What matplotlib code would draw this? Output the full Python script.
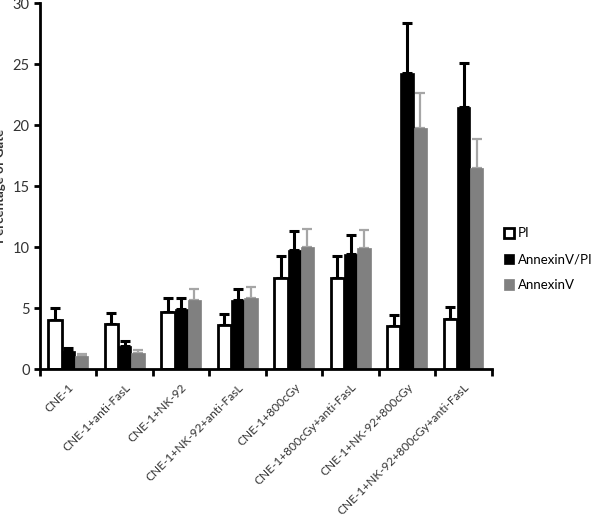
import numpy as np
import matplotlib
matplotlib.use("Agg")
import matplotlib.pyplot as plt

plt.rcParams['font.family'] = ['Lato', 'DejaVu Sans']

groups = ["CNE-1", "CNE-1+anti-FasL", "CNE-1+NK-92", "CNE-1+NK-92+anti-FasL",
          "CNE-1+800cGy", "CNE-1+800cGy+anti-FasL", "CNE-1+NK-92+800cGy",
          "CNE-1+NK-92+800cGy+anti-FasL"]

pi_mean = [4.0, 3.7, 4.7, 3.65, 7.45, 7.45, 3.5, 4.1]
pi_err = [1.0, 0.9, 1.15, 0.9, 1.85, 1.85, 0.9, 1.0]
avpi_mean = [1.5, 1.9, 4.95, 5.7, 9.75, 9.4, 24.3, 21.5]
avpi_err = [0.2, 0.4, 0.85, 0.9, 1.6, 1.6, 4.1, 3.6]
av_mean = [1.1, 1.35, 5.7, 5.85, 10.0, 9.9, 19.75, 16.5]
av_err = [0.1, 0.2, 0.85, 0.85, 1.5, 1.5, 2.9, 2.4]

fig = plt.figure(figsize=(6, 5.22), dpi=100, facecolor="white")
ax = fig.add_axes([0.0667, 0.293, 0.753, 0.701])

x = np.arange(len(groups))
w = 0.235
series = [
    (pi_mean, pi_err, "white", "black", "black", "PI"),
    (avpi_mean, avpi_err, "black", "black", "black", "AnnexinV/PI"),
    (av_mean, av_err, "#808080", "#808080", "#a6a6a6", "AnnexinV"),
]
for i, (m, e, fc, ec, errc, lab) in enumerate(series):
    pos = x + (i - 1) * w
    ax.errorbar(pos, m, yerr=[np.zeros(len(m)), e], fmt="none", ecolor=errc,
                elinewidth=2.2 if errc == "black" else 1.6, capsize=3.5,
                capthick=2.2 if errc == "black" else 1.6, zorder=1)
    ax.bar(pos, m, width=w, facecolor=fc, edgecolor=ec,
           linewidth=2 if fc == "white" else 0.5, label=lab, zorder=2)

ax.set_xlim(-0.5, len(groups) - 0.5)
ax.set_ylim(0, 30)
ax.set_yticks(np.arange(0, 31, 5))
ax.set_xticks(np.arange(-0.5, len(groups), 1))
ax.set_xticklabels([])
ax.set_xticks(x, minor=True)
ax.set_xticklabels(groups, minor=True, rotation=45, ha="right",
                   rotation_mode="anchor", fontsize=8.6, color="#333333")
ax.tick_params(axis="x", which="minor", length=0, pad=9)
ax.tick_params(axis="x", which="major", length=5, width=2, direction="out")
ax.tick_params(axis="y", length=4, width=2, labelsize=10.5, labelcolor="#333333")

for s in ["top", "right"]:
    ax.spines[s].set_visible(False)
for s in ["left", "bottom"]:
    ax.spines[s].set_linewidth(2)

ax.set_ylabel("Percentage of Gate", fontsize=9.5, fontweight="bold",
              color="#333333", labelpad=5)

ax.legend(loc="center left", bbox_to_anchor=(1.0, 0.30), frameon=False,
          fontsize=9.5, handlelength=0.8, handleheight=0.8, handletextpad=0.3,
          labelspacing=1.05)

fig.savefig("out.png", dpi=100, facecolor="white")
